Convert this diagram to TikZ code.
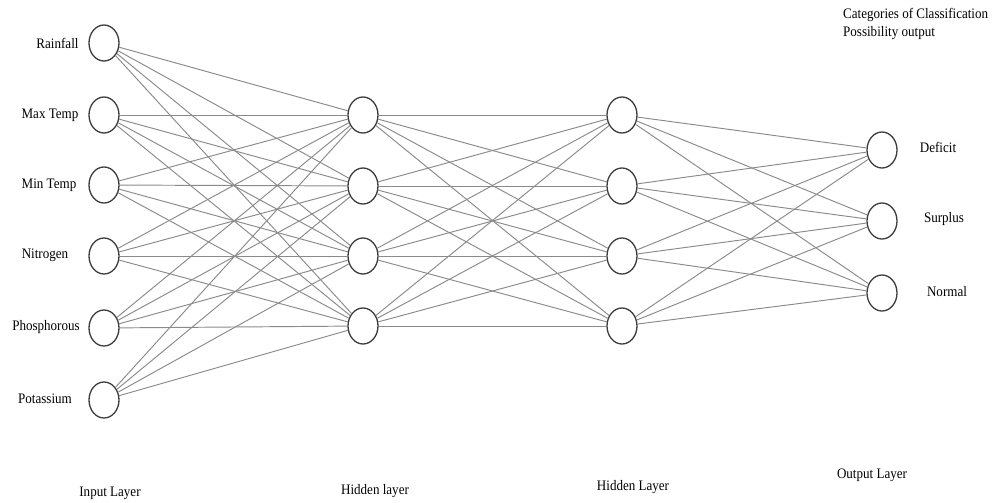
\documentclass[tikz,border=0pt]{standalone}
\usepackage{fontspec}
\setmainfont{Liberation Serif}
\usetikzlibrary{shapes.geometric}
\definecolor{nodeline}{HTML}{3C3C3C}
\definecolor{wire}{HTML}{8A8A8A}
\begin{document}
\begin{tikzpicture}[x=1pt,y=-1pt,
  neuron/.style={ellipse,draw=nodeline,line width=1.3pt,fill=white,
    minimum width=30pt,minimum height=36pt,inner sep=0pt},
  wirestyle/.style={draw=wire,line width=0.95pt},
  lbl/.style={font=\fontsize{14.5}{17}\selectfont,inner sep=0pt,xscale=0.9,text=black}]
\useasboundingbox (0,0) rectangle (994,503);

% input layer
\foreach \i/\y in {1/43,2/115,3/185,4/256,5/328,6/400}
  \node[neuron] (in\i) at (104,\y) {};
% first hidden layer
\foreach \i/\y in {1/115,2/186,3/256,4/326}
  \node[neuron] (ha\i) at (363,\y) {};
% second hidden layer
\foreach \i/\y in {1/115,2/186,3/256,4/326}
  \node[neuron] (hb\i) at (622,\y) {};
% output layer
\foreach \i/\y in {1/150,2/221,3/293}
  \node[neuron] (out\i) at (882,\y) {};

% fully connected weights
\foreach \i in {1,...,6}
  \foreach \j in {1,...,4}
    \draw[wirestyle] (in\i) -- (ha\j);
\foreach \i in {1,...,4}
  \foreach \j in {1,...,4}
    \draw[wirestyle] (ha\i) -- (hb\j);
\foreach \i in {1,...,4}
  \foreach \j in {1,...,3}
    \draw[wirestyle] (hb\i) -- (out\j);

% input labels
\node[lbl] (l1) at (57.5,43) {Rainfall};
\node[lbl] (l2) at (50,115) {Max Temp};
\node[lbl] (l3) at (49,185) {Min Temp};
\node[lbl] (l4) at (45,255) {Nitrogen};
\node[lbl] (l5) at (46,327) {Phosphorous};
\node[lbl] (l6) at (45,399) {Potassium};

% output labels
\node[lbl] (o1) at (938,147) {Deficit};
\node[lbl] (o2) at (944,219) {Surplus};
\node[lbl] (o3) at (947,292) {Normal};

% heading of the output side
\node[lbl,anchor=west] (h1) at (843,15) {Categories of Classification};
\node[lbl,anchor=west] (h2) at (843,33) {Possibility output};

% layer names
\node[lbl] (n1) at (110,493) {Input Layer};
\node[lbl] (n2) at (375,491) {Hidden layer};
\node[lbl] (n3) at (633,487) {Hidden Layer};
\node[lbl] (n4) at (872,475) {Output Layer};
\end{tikzpicture}
\end{document}
